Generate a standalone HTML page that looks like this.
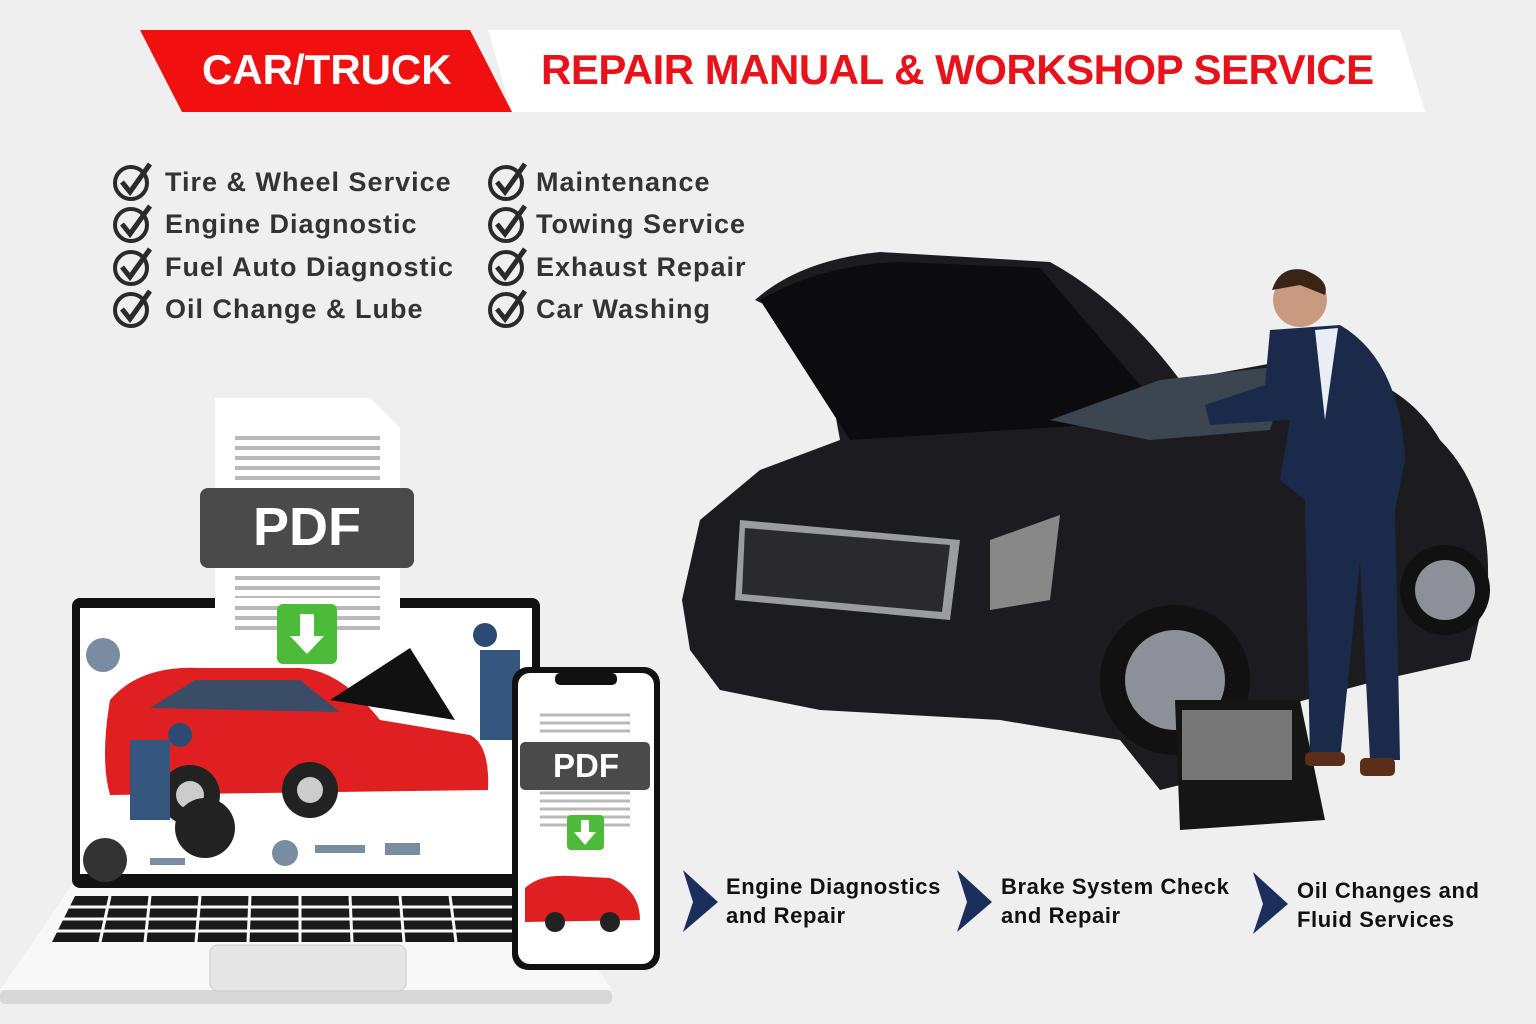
<!DOCTYPE html>
<html><head><meta charset="utf-8"><style>
html,body{margin:0;padding:0}
body{width:1536px;height:1024px;background:#efefef;position:relative;overflow:hidden;font-family:"Liberation Sans",sans-serif}
.t{position:absolute;white-space:nowrap}
.chk{font-size:27px;font-weight:bold;color:#333;letter-spacing:1px}
.bt{font-size:22px;font-weight:bold;color:#111;line-height:29px;letter-spacing:0.6px}
</style></head><body>
<svg width="1536" height="1024" style="position:absolute;left:0;top:0">
<polygon points="488,30 1400,30 1425,112 512,112" fill="#fff"/>
<polygon points="140,30 470,30 512,112 182,112" fill="#f01010"/>
<g fill="none" stroke="#2a2a2a" stroke-width="4">
<g id="c"><circle cx="131" cy="183" r="16"/><polyline points="122,182 130,192 150,164" stroke-width="5"/></g>
<use href="#c" y="42"/><use href="#c" y="85"/><use href="#c" y="127"/>
<use href="#c" x="375"/><use href="#c" x="375" y="42"/><use href="#c" x="375" y="85"/><use href="#c" x="375" y="127"/>
</g>
<polygon points="215,398 370,398 400,428 400,610 215,610" fill="#fff"/>
<g stroke="#b9b9b9" stroke-width="4">
<line x1="235" y1="438" x2="380" y2="438"/><line x1="235" y1="448" x2="380" y2="448"/><line x1="235" y1="458" x2="380" y2="458"/><line x1="235" y1="468" x2="380" y2="468"/><line x1="235" y1="478" x2="380" y2="478"/>
<line x1="235" y1="578" x2="380" y2="578"/><line x1="235" y1="588" x2="380" y2="588"/><line x1="235" y1="598" x2="380" y2="598"/>
</g>
<rect x="200" y="488" width="214" height="80" rx="8" fill="#4a4a4a"/>
<polygon points="72,885 540,885 612,990 0,990" fill="#f8f8f8"/>
<rect x="0" y="990" width="612" height="14" rx="5" fill="#d8d8d8"/>
<rect x="210" y="945" width="196" height="46" rx="8" fill="#e6e6e6" stroke="#ccc"/>
<g fill="#1a1a1a"><polygon points="75,896 520,896 530,942 52,942"/></g>
<g stroke="#f8f8f8" stroke-width="3"><line x1="60" y1="907" x2="525" y2="907"/><line x1="57" y1="919" x2="527" y2="919"/><line x1="55" y1="931" x2="529" y2="931"/>
<line x1="110" y1="896" x2="100" y2="942"/><line x1="150" y1="896" x2="145" y2="942"/><line x1="200" y1="896" x2="196" y2="942"/><line x1="250" y1="896" x2="248" y2="942"/><line x1="300" y1="896" x2="300" y2="942"/><line x1="350" y1="896" x2="352" y2="942"/><line x1="400" y1="896" x2="404" y2="942"/><line x1="450" y1="896" x2="456" y2="942"/></g>
<rect x="72" y="598" width="468" height="290" rx="8" fill="#111"/>
<rect x="80" y="608" width="452" height="266" fill="#fff"/>
<rect x="215" y="598" width="185" height="36" fill="#fff"/>
<g stroke="#b9b9b9" stroke-width="4"><line x1="235" y1="608" x2="380" y2="608"/><line x1="235" y1="618" x2="380" y2="618"/><line x1="235" y1="628" x2="380" y2="628"/></g>
<rect x="277" y="604" width="60" height="60" rx="6" fill="#4cbb3a"/>
<polygon points="300,614 314,614 314,636 324,636 307,654 290,636 300,636" fill="#fff"/>
<path d="M110,700 Q140,665 200,668 L300,668 Q340,670 380,720 L470,735 Q490,745 488,790 L110,795 Q100,760 110,700Z" fill="#e02020"/>
<path d="M150,708 L195,680 L300,680 L340,712Z" fill="#3a4c66"/>
<polygon points="330,700 410,648 455,720" fill="#111"/>
<circle cx="190" cy="795" r="30" fill="#222"/><circle cx="190" cy="795" r="14" fill="#ccc"/>
<circle cx="310" cy="790" r="28" fill="#222"/><circle cx="310" cy="790" r="13" fill="#ccc"/>
<circle cx="205" cy="828" r="30" fill="#222"/>
<rect x="130" y="740" width="40" height="80" fill="#35567e"/><circle cx="180" cy="735" r="12" fill="#2d4b72"/>
<rect x="480" y="650" width="40" height="90" fill="#35567e"/><circle cx="485" cy="635" r="12" fill="#2d4b72"/>
<g fill="#7a8ca0"><circle cx="103" cy="655" r="17"/><circle cx="285" cy="853" r="13"/><rect x="315" y="845" width="50" height="8"/><rect x="385" y="843" width="35" height="12"/><rect x="150" y="858" width="35" height="7"/></g>
<circle cx="105" cy="860" r="22" fill="#333"/>
<rect x="512" y="667" width="148" height="303" rx="16" fill="#111"/>
<rect x="518" y="673" width="136" height="291" rx="12" fill="#fff"/>
<rect x="555" y="673" width="62" height="12" rx="5" fill="#111"/>
<g stroke="#b9b9b9" stroke-width="3"><line x1="540" y1="715" x2="630" y2="715"/><line x1="540" y1="723" x2="630" y2="723"/><line x1="540" y1="731" x2="630" y2="731"/><line x1="540" y1="793" x2="630" y2="793"/><line x1="540" y1="801" x2="630" y2="801"/><line x1="540" y1="809" x2="630" y2="809"/><line x1="540" y1="817" x2="630" y2="817"/><line x1="540" y1="825" x2="630" y2="825"/></g>
<rect x="520" y="742" width="130" height="48" rx="5" fill="#4a4a4a"/>
<rect x="567" y="815" width="37" height="35" rx="4" fill="#4cbb3a"/>
<polygon points="581,820 589,820 589,832 596,832 585,845 574,832 581,832" fill="#fff"/>
<path d="M525,888 Q540,874 570,876 L610,878 Q640,890 640,920 L525,922Z" fill="#e02020"/>
<circle cx="555" cy="922" r="10" fill="#222"/><circle cx="610" cy="922" r="10" fill="#222"/>
<path d="M755,300 Q800,260 880,252 L1050,262 Q1120,300 1180,380 L1290,360 Q1400,370 1440,440 Q1490,490 1488,580 L1470,660 L1380,680 L1230,720 L1200,780 L1160,790 L1120,740 L1000,720 L820,710 L720,690 L690,650 L682,600 L700,520 L760,470 L840,440 L820,330Z" fill="#1c1c20"/>
<path d="M760,300 Q820,265 900,262 L1040,268 L1170,420 L850,440Z" fill="#0c0c0e"/>
<path d="M1050,420 L1160,380 L1290,365 L1270,430 L1150,440Z" fill="#3b4650"/>
<path d="M740,520 L960,540 L950,620 L735,600Z" fill="#9a9ca0"/>
<path d="M745,528 L950,545 L942,612 L742,594Z" fill="#2a2a2e"/>
<path d="M990,540 L1060,515 L1050,600 L990,610Z" fill="#888"/>
<circle cx="1175" cy="680" r="75" fill="#111"/><circle cx="1175" cy="680" r="50" fill="#8d9197"/>
<circle cx="1445" cy="590" r="45" fill="#111"/><circle cx="1445" cy="590" r="30" fill="#8d9197"/>
<polygon points="1175,700 1300,700 1325,820 1180,830" fill="#151515"/>
<rect x="1182" y="710" width="110" height="70" fill="#777"/>
<circle cx="1300" cy="300" r="27" fill="#c99a80"/>
<path d="M1272,290 Q1280,265 1305,270 Q1330,280 1325,295 L1300,285Z" fill="#3a2416"/>
<path d="M1270,330 L1340,325 Q1400,360 1405,460 L1395,510 L1400,760 L1370,760 L1360,560 L1340,760 L1310,760 L1305,500 L1280,480 L1290,420 L1210,425 L1205,405 L1265,385Z" fill="#1b2a4a"/>
<polygon points="1315,330 1338,328 1325,420" fill="#e8eef4"/>
<rect x="1305" y="752" width="40" height="14" rx="5" fill="#5a2e1a"/><rect x="1360" y="758" width="35" height="18" rx="5" fill="#5a2e1a"/>
<g fill="#1c2f5c"><polygon points="683,870 718,902 683,932 693,902"/><polygon points="957,870 992,902 957,932 967,902"/><polygon points="1253,872 1288,904 1253,934 1263,904"/></g>
</svg>
<div class="t" style="left:202px;top:46px;font-size:42px;font-weight:bold;color:#fff;letter-spacing:0px">CAR/TRUCK</div>
<div class="t" style="left:541px;top:46px;font-size:42px;font-weight:bold;color:#e8121a;letter-spacing:-0.5px">REPAIR MANUAL &amp; WORKSHOP SERVICE</div>
<div class="t chk" style="left:165px;top:167px">Tire &amp; Wheel Service</div>
<div class="t chk" style="left:165px;top:209px">Engine Diagnostic</div>
<div class="t chk" style="left:165px;top:252px">Fuel Auto Diagnostic</div>
<div class="t chk" style="left:165px;top:294px">Oil Change &amp; Lube</div>
<div class="t chk" style="left:536px;top:167px">Maintenance</div>
<div class="t chk" style="left:536px;top:209px">Towing Service</div>
<div class="t chk" style="left:536px;top:252px">Exhaust Repair</div>
<div class="t chk" style="left:536px;top:294px">Car Washing</div>
<div class="t" style="left:253px;top:496px;font-size:54px;font-weight:bold;color:#fff">PDF</div>
<div class="t" style="left:553px;top:747px;font-size:33px;font-weight:bold;color:#fff">PDF</div>
<div class="t bt" style="left:726px;top:872px">Engine Diagnostics<br>and Repair</div>
<div class="t bt" style="left:1001px;top:872px">Brake System Check<br>and Repair</div>
<div class="t bt" style="left:1297px;top:876px">Oil Changes and<br>Fluid Services</div>
</body></html>
